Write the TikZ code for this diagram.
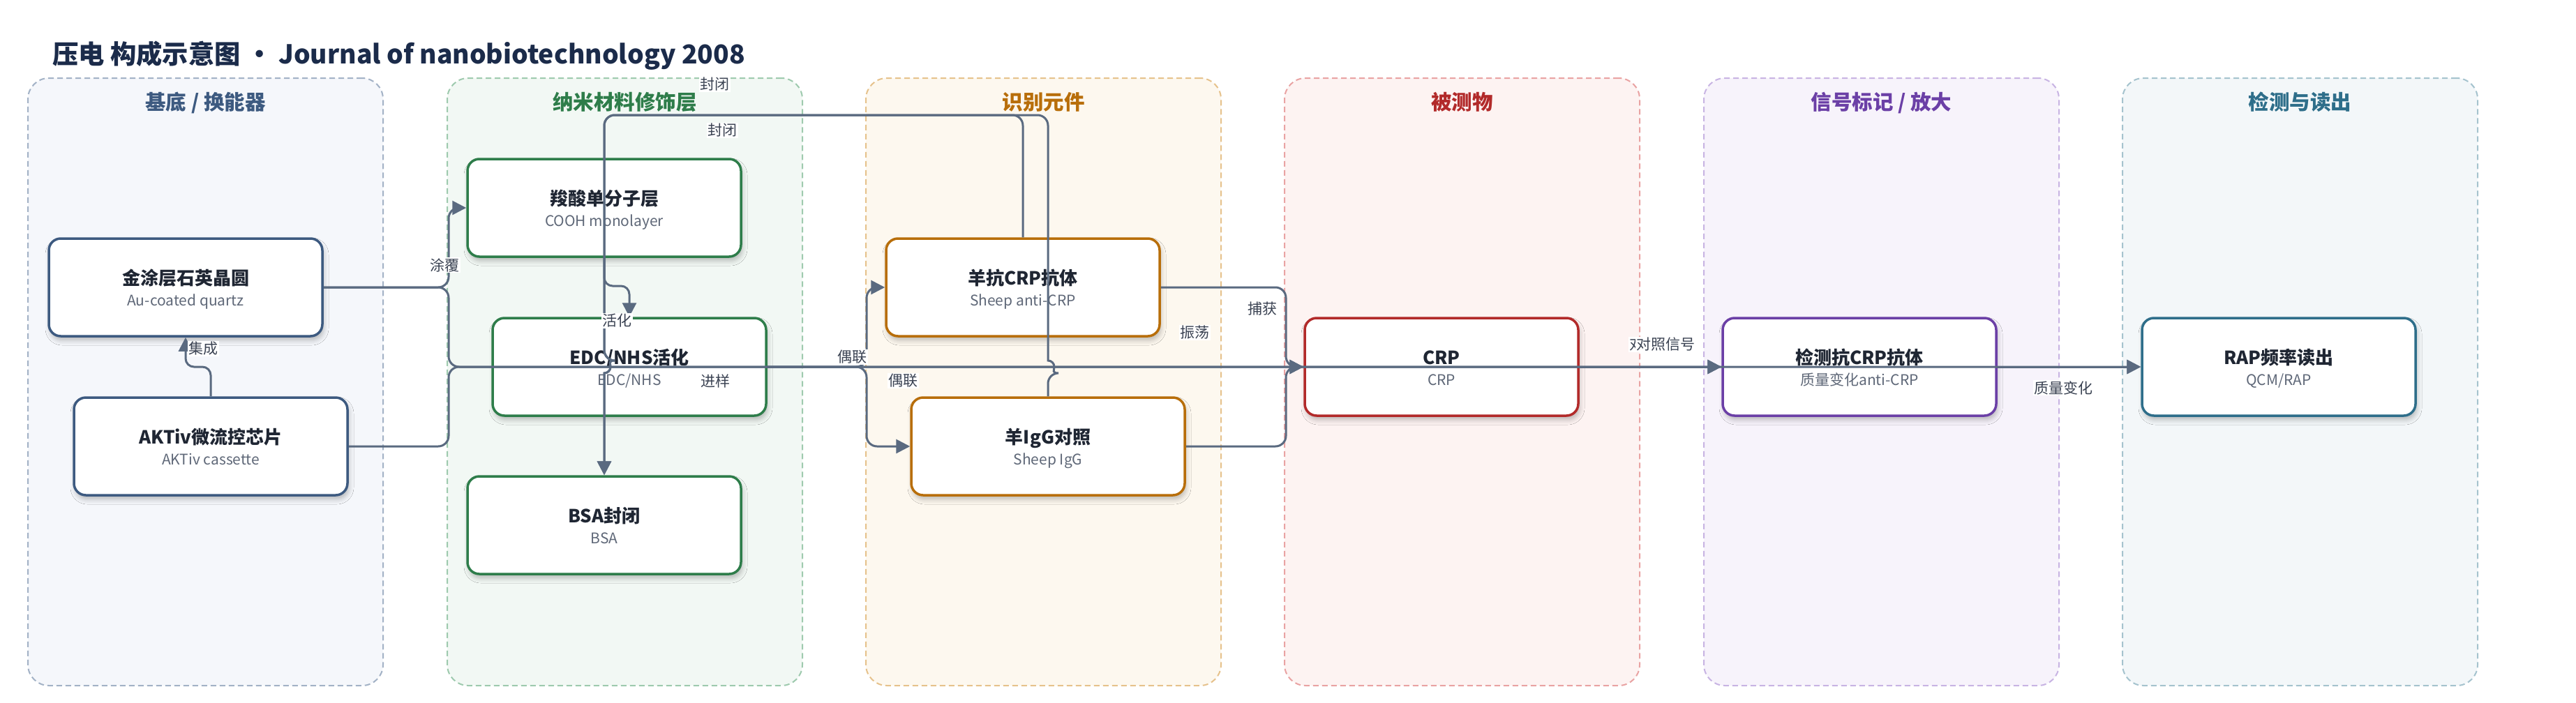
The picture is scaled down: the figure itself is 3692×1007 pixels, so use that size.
\documentclass[tikz,border=0pt]{standalone}
\usepackage{fontspec}
\setmainfont{Noto Sans CJK SC}
\usetikzlibrary{arrows.meta,calc,shadows.blur}

\definecolor{edgec}{HTML}{5A6A80}
\definecolor{titlec}{HTML}{1B2B4A}
\definecolor{txt}{HTML}{1F2633}
\definecolor{subc}{HTML}{5F6878}
\definecolor{lblc}{HTML}{3A4252}
\definecolor{laneAf}{HTML}{F5F7FB}\definecolor{laneAd}{HTML}{A3B2C6}\definecolor{laneAt}{HTML}{3D5A80}
\definecolor{laneBf}{HTML}{F2F8F4}\definecolor{laneBd}{HTML}{9ECAAE}\definecolor{laneBt}{HTML}{2E7D4A}
\definecolor{laneCf}{HTML}{FDF8EF}\definecolor{laneCd}{HTML}{E6C28C}\definecolor{laneCt}{HTML}{B86E0A}
\definecolor{laneDf}{HTML}{FDF3F2}\definecolor{laneDd}{HTML}{E9A3A3}\definecolor{laneDt}{HTML}{B22A2A}
\definecolor{laneEf}{HTML}{F7F3FB}\definecolor{laneEd}{HTML}{C8B4E3}\definecolor{laneEt}{HTML}{6B3FA6}
\definecolor{laneFf}{HTML}{F3F7F9}\definecolor{laneFd}{HTML}{A5C3CE}\definecolor{laneFt}{HTML}{2E6E8A}

\newcommand{\mkbox}[5]{%
  \node[nodebox, draw=#3] (#1) at (#2) {};
  \node[ttl] (#1t) at ($(#1.center)+(0,-4)$) {#4};
  \node[subtxt] (#1s) at ($(#1.center)+(0,26)$) {#5};
}

\begin{document}
\begin{tikzpicture}[x=1pt,y=-1pt,
  lane/.style={line width=2pt, dash pattern=on 8pt off 5pt, rounded corners=30pt,
    minimum width=509pt, minimum height=871pt, inner sep=0pt},
  lanetitle/.style={font=\fontsize{29.5}{33}\selectfont\bfseries, anchor=base, inner sep=0pt},
  nodebox/.style={fill=white, line width=3.5pt, rounded corners=17pt,
    minimum width=392pt, minimum height=140pt, inner sep=0pt,
    blur shadow={shadow xshift=2pt, shadow yshift=-6pt, shadow blur radius=7pt, shadow opacity=25}},
  ttl/.style={font=\fontsize{26}{30}\selectfont\bfseries, text=txt, anchor=base, inner sep=0pt},
  subtxt/.style={font=\fontsize{21}{25}\selectfont, text=subc, anchor=base, inner sep=0pt},
  lbl/.style={font=\fontsize{21}{25}\selectfont, text=lblc, fill=white, inner sep=1.5pt},
  conn/.style={draw=edgec, line width=3pt, rounded corners=15pt, -{Triangle[length=20pt,width=20pt]}},
]
\useasboundingbox (0,0) rectangle (3692,1007);
\fill[white] (0,0) rectangle (3692,1007);

% title
\node[anchor=base west, font=\fontsize{37.3}{41}\selectfont\bfseries, text=titlec, inner sep=0pt]
  (title) at (75,91) {压电 构成示意图 · Journal of nanobiotechnology 2008};

% lanes
\node[lane, fill=laneAf, draw=laneAd] (laneA) at (294.5,547.5) {};
\node[lane, fill=laneBf, draw=laneBd] (laneB) at (895.5,547.5) {};
\node[lane, fill=laneCf, draw=laneCd] (laneC) at (1495.5,547.5) {};
\node[lane, fill=laneDf, draw=laneDd] (laneD) at (2095.5,547.5) {};
\node[lane, fill=laneEf, draw=laneEd] (laneE) at (2696.5,547.5) {};
\node[lane, fill=laneFf, draw=laneFd] (laneF) at (3296.5,547.5) {};

\node[lanetitle, text=laneAt] (tA) at (294.5,157) {基底 / 换能器};
\node[lanetitle, text=laneBt] (tB) at (895.5,157) {纳米材料修饰层};
\node[lanetitle, text=laneCt] (tC) at (1495.5,157) {识别元件};
\node[lanetitle, text=laneDt] (tD) at (2095.5,157) {被测物};
\node[lanetitle, text=laneEt] (tE) at (2696.5,157) {信号标记 / 放大};
\node[lanetitle, text=laneFt] (tF) at (3296.5,157) {检测与读出};

% nodes
\mkbox{n1}{266,412}{laneAt}{金涂层石英晶圆}{Au-coated quartz}
\mkbox{n2}{302,640}{laneAt}{AKTiv微流控芯片}{AKTiv cassette}
\mkbox{n3}{866,298}{laneBt}{羧酸单分子层}{COOH monolayer}
\mkbox{n4}{902,526}{laneBt}{EDC/NHS活化}{EDC/NHS}
\mkbox{n5}{866,753}{laneBt}{BSA封闭}{BSA}
\mkbox{n6}{1466,412}{laneCt}{羊抗CRP抗体}{Sheep anti-CRP}
\mkbox{n7}{1502,640}{laneCt}{羊IgG对照}{Sheep IgG}
\mkbox{n8}{2066,526}{laneDt}{CRP}{CRP}
\mkbox{n9}{2665,526}{laneEt}{检测抗CRP抗体}{质量变化anti-CRP}
\mkbox{n10}{3266,526}{laneFt}{RAP频率读出}{QCM/RAP}

% connectors
\draw[conn] (n1.east) -- (643,412) -- (643,298) -- (n3.west);
\draw[conn] (n1.east) -- (643,412) -- (643,526) -- (n10.west);
\draw[conn] (n2.east) -- (643,640) -- (643,526) -- (n8.west);
\draw[conn, rounded corners=12pt] (n2.north) -- (302,526) -- (266,526) -- (n1.south);
\draw[conn, rounded corners=12pt] (n3.south) -- (866,410) -- (902,410) -- (n4.north);
\draw[conn] (n4.east) -- (1242,526) -- (1242,412) -- (n6.west);
\draw[conn] (n4.east) -- (1242,526) -- (1242,640) -- (n7.west);
\draw[conn] (n6.north) -- (1466,165) -- (866,165) -- (866,517)
  [sharp corners] arc[start angle=-90, end angle=90, radius=9]
  [rounded corners=15pt] -- (n5.north);
\draw[conn] (n7.north) -- (1502,535)
  [sharp corners] arc[start angle=90, end angle=-90, radius=9]
  [rounded corners=15pt] -- (1502,165) -- (866,165) -- (866,517)
  [sharp corners] arc[start angle=-90, end angle=90, radius=9]
  [rounded corners=15pt] -- (n5.north);
\draw[conn] (n6.east) -- (1843,412) -- (1843,526) -- (n8.west);
\draw[conn] (n7.east) -- (1843,640) -- (1843,526) -- (n9.west);
\draw[conn] (n8.east) -- (n9.west);
\draw[conn] (n9.east) -- (n10.west);

% labels
\node[lbl] (l1) at (637,380) {涂覆};
\node[lbl] (l2) at (291,500) {集成};
\node[lbl] (l3) at (1024,121) {封闭};
\node[lbl] (l4) at (1035,187) {封闭};
\node[lbl] (l5) at (884,460) {活化};
\node[lbl] (l6) at (1025,546) {进样};
\node[lbl] (l7) at (1221,512) {偶联};
\node[lbl] (l8) at (1294,546) {偶联};
\node[lbl] (l9) at (1712,477) {振荡};
\node[lbl] (l10) at (1809,443) {捕获};
\node[lbl] (l11) at (2377,494) {对照信号};
\node[lbl] (l12) at (2387,494) {对照信号};
\node[lbl] (l13) at (2957,556) {质量变化};
\end{tikzpicture}
\end{document}
